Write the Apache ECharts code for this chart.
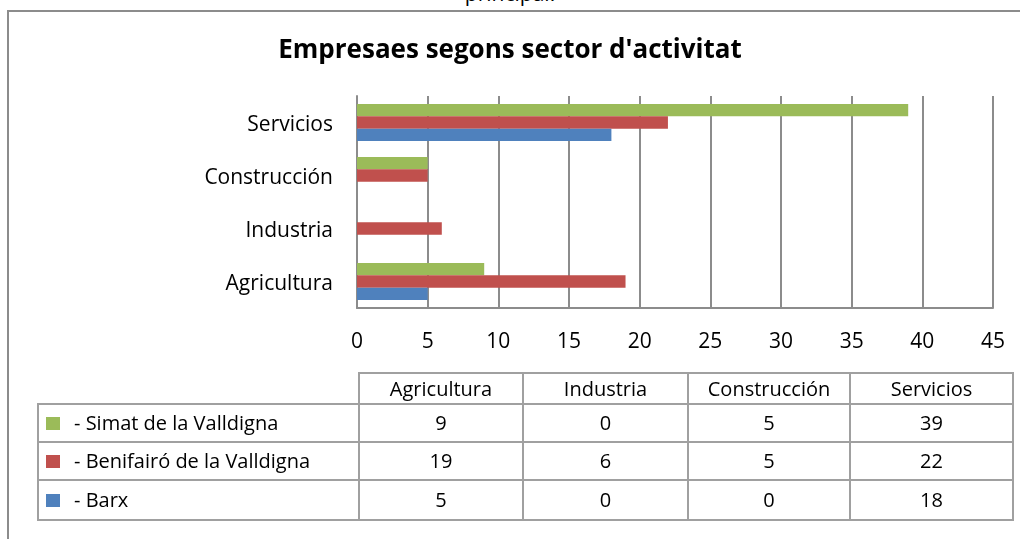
<!DOCTYPE html>
<html>
<head>
<meta charset="utf-8">
<script src="https://cdn.jsdelivr.net/npm/echarts@6/dist/echarts.min.js"></script>
<style>
  body{margin:0;padding:0;background:#fff;overflow:hidden;}
  #wrap{position:relative;width:1020px;height:539px;overflow:hidden;font-family:"Open Sans",sans-serif;}
  #top{position:absolute;left:0;width:1020px;top:-17px;line-height:21px;text-align:center;font-size:21px;color:#000;}
  #frame{position:absolute;left:7px;top:10px;width:1100px;height:600px;border:2px solid #8c8c8c;box-sizing:border-box;background:#fff;}
  #chart{position:absolute;left:0;top:0;width:1020px;height:539px;}
  #tbl{position:absolute;left:37px;top:372px;border-collapse:collapse;font-size:20px;color:#000;}
  #tbl td{border:2px solid #a0a0a0;padding:0;text-align:center;line-height:22px;}
  #tbl td.lg{text-align:left;padding-left:7px;white-space:nowrap;}
  #tbl td.blank{border-top:none;border-left:none;}
  .sq{display:inline-block;width:14px;height:13px;margin-right:14px;vertical-align:0px;}
</style>
</head>
<body>
<div id="wrap">
  <div id="top">principal.</div>
  <div id="frame"></div>
  <div id="chart"></div>
  <table id="tbl"></table>
</div>
<script>
// categorias y series (orden de la tabla: de arriba a abajo)
var categories=['Agricultura','Industria','Construcción','Servicios'];
var serieNames=['- Simat de la Valldigna','- Benifairó de la Valldigna','- Barx'];
var serieColors=['#9bbb59','#c0504d','#4f81bd'];
var simat=[9,0,5,39];
var benifairo=[19,6,5,22];
var barx=[5,0,0,18];
var xTicks=[0,45,5]; // min, max, interval

var allData=[simat,benifairo,barx];

var myChart=echarts.init(document.getElementById('chart'));
var series=[];
for(var i=0;i<allData.length;i++){
    series.push({
        name:serieNames[i],
        type:'bar',
        data:allData[i],
        barGap:'0%',
        barCategoryGap:'30%',
        itemStyle:{color:serieColors[i]},
        silent:true
    });
}
myChart.setOption({
    animation:false,
    title:{
        text:'Empresaes segons sector d\'activitat',
        left:'center',
        top:33,
        textStyle:{fontFamily:'Open Sans',fontWeight:'bold',fontSize:26,color:'#000'}
    },
    grid:{left:357,right:27,top:96,bottom:231,containLabel:false},
    xAxis:{
        type:'value',
        min:xTicks[0],max:xTicks[1],interval:xTicks[2],
        axisLine:{show:true,lineStyle:{color:'#8c8c8c',width:2}},
        axisTick:{show:false},
        axisLabel:{margin:24,fontFamily:'Open Sans',fontSize:21,color:'#000'},
        splitLine:{show:true,lineStyle:{color:'#8c8c8c',width:2}}
    },
    yAxis:{
        type:'category',
        data:categories,
        axisLine:{show:true,lineStyle:{color:'#8c8c8c',width:2}},
        axisTick:{show:false},
        axisLabel:{
            margin:24,
            formatter:'{a|{value}}',
            rich:{a:{padding:[6,0,0,0],fontFamily:'Open Sans',fontSize:21,color:'#000'}}
        }
    },
    series:series
});

// tabla de datos
var colW=[320,162,163,160,161];
var rowH=[31,38,38,40];
var html='<tr style="height:'+rowH[0]+'px"><td class="blank" style="width:'+colW[0]+'px"></td>';
for(var c=0;c<categories.length;c++){
    html+='<td style="width:'+colW[c+1]+'px">'+categories[c]+'</td>';
}
html+='</tr>';
for(var r=0;r<allData.length;r++){
    html+='<tr style="height:'+rowH[r+1]+'px"><td class="lg"><span class="sq" style="background:'+serieColors[r]+'"></span>'+serieNames[r]+'</td>';
    for(var c=0;c<categories.length;c++){
        html+='<td>'+allData[r][c]+'</td>';
    }
    html+='</tr>';
}
document.getElementById('tbl').innerHTML=html;
</script>
</body>
</html>
